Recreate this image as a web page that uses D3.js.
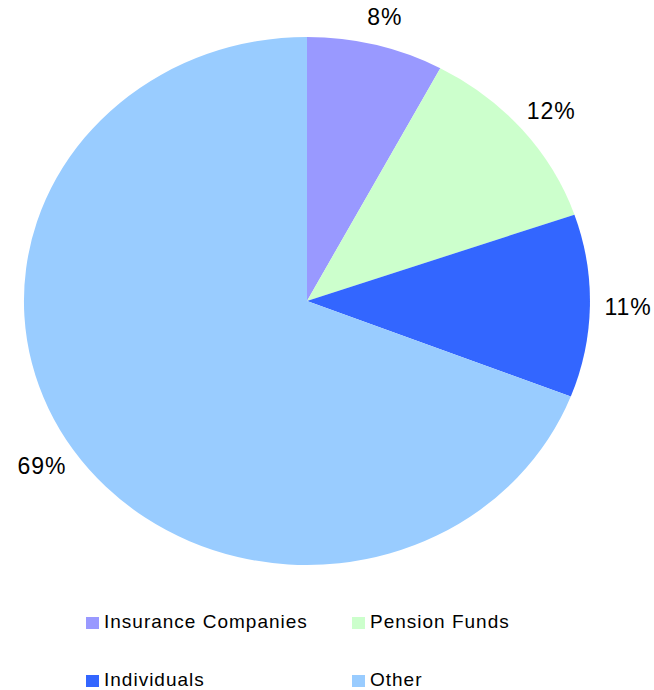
<!DOCTYPE html>
<html>
<head>
<meta charset="UTF-8">
<title>pie</title>
<script src="https://cdn.jsdelivr.net/npm/d3@7"></script>
<style>
  body { margin: 0; background: #fff; }
  text { font-family: "Liberation Sans", Arial, sans-serif; fill: #000; }
</style>
</head>
<body>
<script>
var categories = ["Insurance Companies", "Pension Funds", "Individuals", "Other"];
var values = [7.8, 11.9, 11.2, 69.1];
var colors = ["#9999FF", "#CCFFCC", "#3366FF", "#99CCFF"];

var width = 654, height = 690,
    cx = 307, cy = 301,
    rx = 283, ry = 264;

var svg = d3.select("body").append("svg")
    .attr("width", width)
    .attr("height", height);

var data = categories.map(function(c, i){
    return {name: c, value: values[i], color: colors[i]};
});

var pie = d3.pie()
    .sort(null)
    .value(function(d){ return d.value; });

var arcs = pie(data);
var total = d3.sum(values);

// unit circle, stretched into the ellipse
var arc = d3.arc().innerRadius(0).outerRadius(1);

var g = svg.append("g")
    .attr("transform", "translate(" + cx + "," + cy + ") scale(" + rx + "," + ry + ")");

g.selectAll("path")
    .data(arcs)
  .enter().append("path")
    .attr("d", arc)
    .attr("fill", function(d){ return d.data.color; });

// percentage labels outside the slices
var labelKx = 1.135, labelKy = 1.11;
svg.append("g").selectAll("text")
    .data(arcs)
  .enter().append("text")
    .attr("x", function(d){
        var a = (d.startAngle + d.endAngle) / 2;
        return cx + Math.sin(a) * rx * labelKx;
    })
    .attr("y", function(d){
        var a = (d.startAngle + d.endAngle) / 2;
        return cy - Math.cos(a) * ry * labelKy;
    })
    .attr("text-anchor", "middle")
    .attr("dominant-baseline", "central")
    .style("font-size", "23px")
    .style("letter-spacing", "1px")
    .text(function(d){ return Math.round(d.data.value / total * 100) + "%"; });

// legend, two columns
var legendX = d3.scalePoint().domain([0, 1]).range([86, 352]);
var legendY = d3.scalePoint().domain([0, 1]).range([621, 679]);

var legend = svg.append("g").selectAll("g")
    .data(data)
  .enter().append("g")
    .attr("transform", function(d, i){
        return "translate(" + legendX(i % 2) + "," + legendY(Math.floor(i / 2)) + ")";
    });

legend.append("rect")
    .attr("x", 0).attr("y", -4)
    .attr("width", 13).attr("height", 12)
    .attr("fill", function(d){ return d.color; });

legend.append("text")
    .attr("x", 18)
    .attr("y", 0)
    .attr("dominant-baseline", "central")
    .style("font-size", "19px")
    .style("letter-spacing", "1px")
    .text(function(d){ return d.name; });
</script>
</body>
</html>
